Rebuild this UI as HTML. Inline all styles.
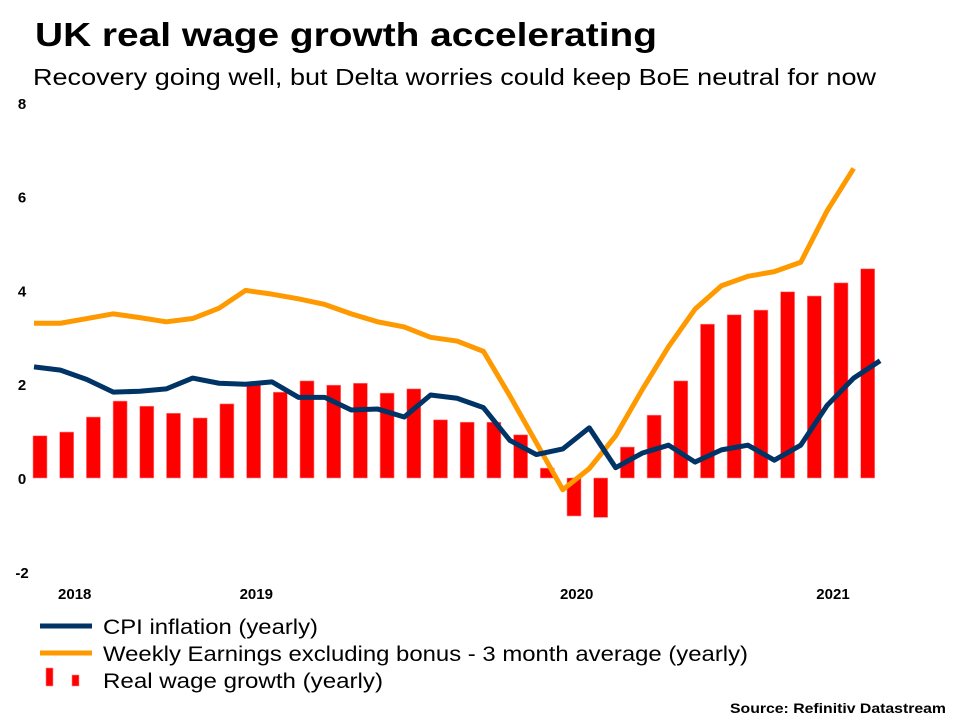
<!DOCTYPE html>
<html><head><meta charset="utf-8"><style>
html,body{margin:0;padding:0;background:#fff;}
svg{display:block;font-family:"Liberation Sans",Arial,sans-serif;}
</style></head><body>
<svg id="chart" width="960" height="720" viewBox="0 0 960 720">
<text x="35" y="46" font-size="33" font-weight="bold" textLength="622" lengthAdjust="spacingAndGlyphs">UK real wage growth accelerating</text>
<text x="33" y="85" font-size="23" textLength="843" lengthAdjust="spacingAndGlyphs">Recovery going well, but Delta worries could keep BoE neutral for now</text>
<g id="yaxis"></g>
<g id="xaxis"></g>
<g id="bars"></g>
<g id="lines"></g>
<g>
<g>
<line x1="40" y1="626" x2="92" y2="626" stroke="#003366" stroke-width="5"/>
<text x="103" y="634" font-size="21" textLength="215" lengthAdjust="spacingAndGlyphs">CPI inflation (yearly)</text></g>
<g>
<line x1="40" y1="653" x2="92" y2="653" stroke="#FF9900" stroke-width="5"/>
<text x="103" y="661" font-size="21" textLength="645" lengthAdjust="spacingAndGlyphs">Weekly Earnings excluding bonus - 3 month average (yearly)</text></g>
<g>
<rect x="46" y="668" width="7" height="18" fill="#FF0000" stroke="#f88" stroke-width="0.6"/>
<rect x="72" y="675" width="7" height="11" fill="#FF0000" stroke="#f88" stroke-width="0.6"/>
<text x="103" y="688" font-size="21" textLength="280" lengthAdjust="spacingAndGlyphs">Real wage growth (yearly)</text></g>
</g>
<text x="946" y="713" font-size="14" font-weight="bold" text-anchor="end" textLength="216" lengthAdjust="spacingAndGlyphs">Source: Refinitiv Datastream</text>
</svg>
<script>
const yTicks = [8, 6, 4, 2, 0, -2];
const yearLabels = ["2018", "2019", "2020", "2021"];
const yearPos = [1.3, 8.1, 20.1, 29.7];
const realWage = [0.9,0.98,1.3,1.64,1.53,1.38,1.28,1.58,2.0,1.83,2.07,1.98,2.02,1.81,1.9,1.24,1.19,1.19,0.92,0.21,-0.81,-0.84,0.66,1.34,2.07,3.28,3.48,3.58,3.97,3.88,4.16,4.46];
const cpi = [2.37,2.3,2.1,1.83,1.85,1.9,2.13,2.02,2.0,2.05,1.72,1.72,1.45,1.47,1.3,1.77,1.7,1.5,0.8,0.5,0.62,1.07,0.22,0.53,0.7,0.34,0.6,0.7,0.38,0.7,1.55,2.13,2.5];
const earnings = [3.3,3.3,3.4,3.5,3.42,3.33,3.4,3.62,4.0,3.92,3.82,3.7,3.5,3.33,3.22,3.0,2.92,2.7,1.75,0.75,-0.25,0.2,0.9,1.88,2.8,3.6,4.1,4.3,4.4,4.6,5.7,6.6];

const NS = "http://www.w3.org/2000/svg";
const y = v => 478 - 46.9 * v;
const xBar = i => 40 + 26.7 * i;
const xLine = i => 34 + 26.44 * i;
function mk(tag, attrs, parent) {
  const e = document.createElementNS(NS, tag);
  for (const k in attrs) e.setAttribute(k, attrs[k]);
  parent.appendChild(e);
  return e;
}
const ya = document.getElementById("yaxis");
yTicks.forEach(t => {
  const e = mk("text", {x: 22, y: y(t) + 6, "font-size": 15, "font-weight": "bold", "text-anchor": "middle"}, ya);
  
  
  e.textContent = t;
});
const xa = document.getElementById("xaxis");
yearLabels.forEach((l, i) => {
  const e = mk("text", {x: xBar(yearPos[i]), y: 599, "font-size": 15, "font-weight": "bold", "text-anchor": "middle"}, xa);
  
  
  e.textContent = l;
});
const bg = document.getElementById("bars");
realWage.forEach((v, i) => {
  const top = Math.min(y(v), y(0)), h = Math.abs(y(v) - y(0));
  const r = mk("rect", {x: xBar(i) - 7, y: top, width: 14, height: h, fill: "#FF0000", stroke: "#f88", "stroke-width": 0.6}, bg);
  
  
});
const lg = document.getElementById("lines");
function line(data, color, name) {
  const p = mk("polyline", {points: data.map((v, i) => xLine(i) + "," + y(v)).join(" "), fill: "none", stroke: color, "stroke-width": 5, "stroke-linejoin": "round"}, lg);
  
  
}
line(earnings, "#FF9900", "earnings-line");
line(cpi, "#003366", "cpi-line");
</script>
</body></html>
